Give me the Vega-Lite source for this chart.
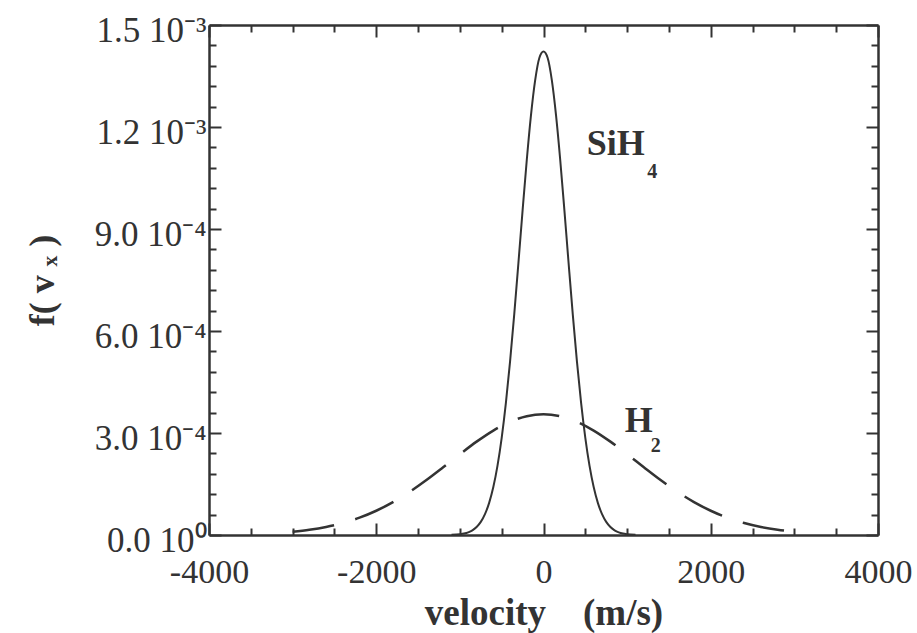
{
  "$schema": "https://vega.github.io/schema/vega-lite/v6.json",
  "width": 669,
  "height": 510,
  "autosize": {"type": "none"},
  "padding": {"left": 209, "top": 25, "right": 39, "bottom": 98},
  "background": "white",
  "config": {
    "view": {"stroke": null},
    "font": "Liberation Serif",
    "axis": {"grid": false, "domainColor": "#333", "domainWidth": 2.5, "tickColor": "#333", "tickWidth": 2, "labelColor": "#333", "titleColor": "#333", "labelFont": "Liberation Serif", "titleFont": "Liberation Serif"}
  },
  "datasets": {
    "sih4": [
      {"v": -1100, "f": 0.0000004}, {"v": -1000, "f": 0.0000023}, {"v": -950, "f": 0.0000043}, {"v": -900, "f": 0.0000078},
      {"v": -850, "f": 0.0000137}, {"v": -800, "f": 0.0000234}, {"v": -750, "f": 0.0000385}, {"v": -700, "f": 0.0000613},
      {"v": -650, "f": 0.0000945}, {"v": -600, "f": 0.000141}, {"v": -550, "f": 0.000204}, {"v": -500, "f": 0.000286},
      {"v": -450, "f": 0.000388}, {"v": -400, "f": 0.00051}, {"v": -350, "f": 0.000649}, {"v": -300, "f": 0.0008},
      {"v": -250, "f": 0.000955}, {"v": -200, "f": 0.001103}, {"v": -150, "f": 0.001234}, {"v": -100, "f": 0.001337},
      {"v": -50, "f": 0.001403}, {"v": 0, "f": 0.001422}, {"v": 50, "f": 0.001403}, {"v": 100, "f": 0.001337},
      {"v": 150, "f": 0.001234}, {"v": 200, "f": 0.001103}, {"v": 250, "f": 0.000955}, {"v": 300, "f": 0.0008},
      {"v": 350, "f": 0.000649}, {"v": 400, "f": 0.00051}, {"v": 450, "f": 0.000388}, {"v": 500, "f": 0.000286},
      {"v": 550, "f": 0.000204}, {"v": 600, "f": 0.000141}, {"v": 650, "f": 0.0000945}, {"v": 700, "f": 0.0000613},
      {"v": 750, "f": 0.0000385}, {"v": 800, "f": 0.0000234}, {"v": 850, "f": 0.0000137}, {"v": 900, "f": 0.0000078},
      {"v": 950, "f": 0.0000043}, {"v": 1000, "f": 0.0000023}, {"v": 1100, "f": 0.0000004}
    ],
    "h2": [
      {"v": -3000, "f": 0.0000096}, {"v": -2800, "f": 0.0000153}, {"v": -2600, "f": 0.0000235}, {"v": -2400, "f": 0.0000351},
      {"v": -2200, "f": 0.0000509}, {"v": -2000, "f": 0.0000713}, {"v": -1800, "f": 0.0000967}, {"v": -1600, "f": 0.000127},
      {"v": -1400, "f": 0.0001616}, {"v": -1200, "f": 0.0001992}, {"v": -1000, "f": 0.0002376}, {"v": -800, "f": 0.0002746},
      {"v": -600, "f": 0.0003072}, {"v": -400, "f": 0.0003329}, {"v": -200, "f": 0.0003494}, {"v": 0, "f": 0.000355},
      {"v": 200, "f": 0.0003494}, {"v": 400, "f": 0.0003329}, {"v": 600, "f": 0.0003072}, {"v": 800, "f": 0.0002746},
      {"v": 1000, "f": 0.0002376}, {"v": 1200, "f": 0.0001992}, {"v": 1400, "f": 0.0001616}, {"v": 1600, "f": 0.000127},
      {"v": 1800, "f": 0.0000967}, {"v": 2000, "f": 0.0000713}, {"v": 2200, "f": 0.0000509}, {"v": 2400, "f": 0.0000351},
      {"v": 2600, "f": 0.0000235}, {"v": 2800, "f": 0.0000153}, {"v": 3000, "f": 0.0000096}
    ],
    "labels": [
      {"text": "SiH", "v": 516, "f": 0.001118},
      {"text": "H", "v": 971, "f": 0.000303}
    ],
    "subs": [
      {"text": "4", "v": 1240, "f": 0.00105},
      {"text": "2", "v": 1283, "f": 0.000244}
    ]
  },
  "layer": [
    {
      "data": {"name": "sih4"},
      "mark": {"type": "line", "color": "#333", "strokeWidth": 2, "interpolate": "monotone"},
      "encoding": {
        "x": {"field": "v", "type": "quantitative", "scale": {"domain": [-4000, 4000], "nice": false},
          "axis": {"orient": "bottom", "title": "velocity\u00a0\u00a0\u00a0\u00a0(m/s)", "titleFontSize": 37, "titleFontWeight": "bold", "titlePadding": 6,
            "values": [-4000, -3500, -3000, -2500, -2000, -1500, -1000, -500, 0, 500, 1000, 1500, 2000, 2500, 3000, 3500, 4000],
            "labelExpr": "datum.value % 2000 === 0 ? toString(datum.value) : ''",
            "labelFontSize": 34, "labelPadding": 32, "labelFlush": false,
            "tickSize": {"condition": {"test": "datum.value % 2000 === 0", "value": -12}, "value": -7}}},
        "y": {"field": "f", "type": "quantitative", "scale": {"domain": [0, 0.0015], "nice": false},
          "axis": {"orient": "left", "title": "f(\u00a0v\u00a0ₓ\u00a0)", "titleFontSize": 36, "titleFontWeight": "bold", "titlePadding": 33,
            "values": [0, 0.00006, 0.00012, 0.00018, 0.00024, 0.0003, 0.00036, 0.00042, 0.00048, 0.00054, 0.0006, 0.00066, 0.00072, 0.00078, 0.00084, 0.0009, 0.00096, 0.00102, 0.00108, 0.00114, 0.0012, 0.00126, 0.00132, 0.00138, 0.00144, 0.0015],
            "labelExpr": "abs(round(datum.value / 0.0003) * 0.0003 - datum.value) > 1e-9 ? '' : (datum.value < 1e-9 ? '0.0 10⁰' : (datum.value < 0.00099 ? format(datum.value * 10000, '.1f') + ' 10⁻⁴' : format(datum.value * 1000, '.1f') + ' 10⁻³'))",
            "labelFontSize": 35, "labelPadding": 15, "labelFlush": false, "labelBaseline": "alphabetic", "labelOffset": 16,
            "tickSize": {"condition": {"test": "abs(round(datum.value / 0.0003) * 0.0003 - datum.value) < 1e-9", "value": -12}, "value": -7}}}
      }
    },
    {
      "data": {"name": "h2"},
      "mark": {"type": "line", "color": "#333", "strokeWidth": 2.5, "strokeDash": [42, 22], "interpolate": "monotone"},
      "encoding": {
        "x": {"field": "v", "type": "quantitative", "axis": null},
        "y": {"field": "f", "type": "quantitative", "axis": null}
      }
    },
    {
      "data": {"name": "sih4"},
      "mark": {"type": "point", "opacity": 0},
      "encoding": {
        "x": {"field": "v", "type": "quantitative",
          "axis": {"orient": "top", "title": null, "labels": false,
            "values": [-4000, -3500, -3000, -2500, -2000, -1500, -1000, -500, 0, 500, 1000, 1500, 2000, 2500, 3000, 3500, 4000],
            "tickSize": {"condition": {"test": "datum.value % 2000 === 0", "value": -12}, "value": -7}}},
        "y": {"field": "f", "type": "quantitative",
          "axis": {"orient": "right", "title": null, "labels": false,
            "values": [0, 0.00006, 0.00012, 0.00018, 0.00024, 0.0003, 0.00036, 0.00042, 0.00048, 0.00054, 0.0006, 0.00066, 0.00072, 0.00078, 0.00084, 0.0009, 0.00096, 0.00102, 0.00108, 0.00114, 0.0012, 0.00126, 0.00132, 0.00138, 0.00144, 0.0015],
            "tickSize": {"condition": {"test": "abs(round(datum.value / 0.0003) * 0.0003 - datum.value) < 1e-9", "value": -12}, "value": -7}}}
      }
    },
    {
      "data": {"name": "labels"},
      "mark": {"type": "text", "align": "left", "baseline": "alphabetic", "font": "Liberation Serif", "fontWeight": "bold", "fontSize": 36, "color": "#333"},
      "encoding": {
        "x": {"field": "v", "type": "quantitative", "axis": null},
        "y": {"field": "f", "type": "quantitative", "axis": null},
        "text": {"field": "text"}
      }
    },
    {
      "data": {"name": "subs"},
      "mark": {"type": "text", "align": "left", "baseline": "alphabetic", "font": "Liberation Serif", "fontWeight": "bold", "fontSize": 20, "color": "#333"},
      "encoding": {
        "x": {"field": "v", "type": "quantitative", "axis": null},
        "y": {"field": "f", "type": "quantitative", "axis": null},
        "text": {"field": "text"}
      }
    }
  ],
  "resolve": {"axis": {"x": "independent", "y": "independent"}}
}
